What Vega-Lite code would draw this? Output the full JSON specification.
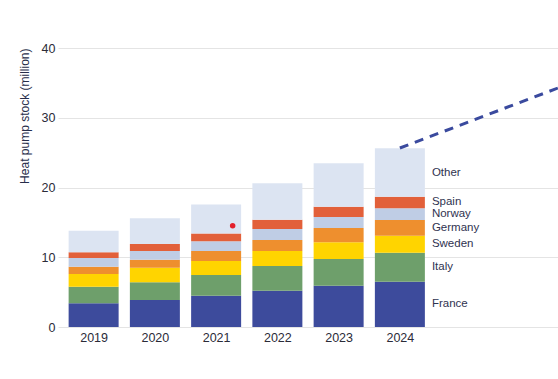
{
  "$schema": "https://vega.github.io/schema/vega-lite/v6.json",
  "autosize": {"type": "none"},
  "width": 500,
  "height": 279,
  "padding": {"left": 58, "top": 48, "right": 0, "bottom": 52},
  "background": "white",
  "config": {
    "view": {"stroke": null},
    "font": "Liberation Sans",
    "axis": {"labelFont": "Liberation Sans", "titleFont": "Liberation Sans"}
  },
  "datasets": {
    "stock": [
      {"year": 2019, "country": "France", "value": 3.4},
      {"year": 2019, "country": "Italy", "value": 2.38},
      {"year": 2019, "country": "Sweden", "value": 1.82},
      {"year": 2019, "country": "Germany", "value": 1.05},
      {"year": 2019, "country": "Norway", "value": 1.24},
      {"year": 2019, "country": "Spain", "value": 0.82},
      {"year": 2019, "country": "Other", "value": 3.1},
      {"year": 2020, "country": "France", "value": 3.87},
      {"year": 2020, "country": "Italy", "value": 2.54},
      {"year": 2020, "country": "Sweden", "value": 2.09},
      {"year": 2020, "country": "Germany", "value": 1.15},
      {"year": 2020, "country": "Norway", "value": 1.25},
      {"year": 2020, "country": "Spain", "value": 1.0},
      {"year": 2020, "country": "Other", "value": 3.68},
      {"year": 2021, "country": "France", "value": 4.49},
      {"year": 2021, "country": "Italy", "value": 2.97},
      {"year": 2021, "country": "Sweden", "value": 2.0},
      {"year": 2021, "country": "Germany", "value": 1.43},
      {"year": 2021, "country": "Norway", "value": 1.39},
      {"year": 2021, "country": "Spain", "value": 1.14},
      {"year": 2021, "country": "Other", "value": 4.16},
      {"year": 2022, "country": "France", "value": 5.2},
      {"year": 2022, "country": "Italy", "value": 3.55},
      {"year": 2022, "country": "Sweden", "value": 2.15},
      {"year": 2022, "country": "Germany", "value": 1.57},
      {"year": 2022, "country": "Norway", "value": 1.58},
      {"year": 2022, "country": "Spain", "value": 1.33},
      {"year": 2022, "country": "Other", "value": 5.22},
      {"year": 2023, "country": "France", "value": 5.92},
      {"year": 2023, "country": "Italy", "value": 3.83},
      {"year": 2023, "country": "Sweden", "value": 2.39},
      {"year": 2023, "country": "Germany", "value": 2.05},
      {"year": 2023, "country": "Norway", "value": 1.58},
      {"year": 2023, "country": "Spain", "value": 1.48},
      {"year": 2023, "country": "Other", "value": 6.22},
      {"year": 2024, "country": "France", "value": 6.5},
      {"year": 2024, "country": "Italy", "value": 4.15},
      {"year": 2024, "country": "Sweden", "value": 2.44},
      {"year": 2024, "country": "Germany", "value": 2.25},
      {"year": 2024, "country": "Norway", "value": 1.68},
      {"year": 2024, "country": "Spain", "value": 1.66},
      {"year": 2024, "country": "Other", "value": 6.94}
    ],
    "projection": [
      {"year": 2024, "value": 25.66},
      {"year": 2027, "value": 35.66}
    ],
    "marker": [
      {"year": 2021.27, "value": 14.5}
    ]
  },
  "layer": [
    {
      "data": {"name": "stock"},
      "transform": [
        {"calculate": "indexof(['France','Italy','Sweden','Germany','Norway','Spain','Other'], datum.country)", "as": "ord"}
      ],
      "mark": {"type": "bar", "size": 50},
      "encoding": {
        "x": {
          "field": "year", "type": "quantitative",
          "scale": {"domain": [2018.5, 2026.5], "nice": false, "zero": false},
          "axis": {
            "values": [2019, 2020, 2021, 2022, 2023, 2024],
            "format": "d", "title": null, "grid": false, "ticks": false, "domain": false,
            "labelFontSize": 12.5, "labelColor": "#2b2b38", "labelPadding": 4, "labelFlush": false
          }
        },
        "y": {
          "field": "value", "type": "quantitative", "stack": "zero",
          "scale": {"domain": [0, 40], "nice": false},
          "axis": {
            "values": [0, 10, 20, 30, 40],
            "title": "Heat pump stock (million)",
            "titleFontSize": 12, "titleFontWeight": "normal", "titleColor": "#262d4a",
            "titleAnchor": "end", "titlePadding": 10,
            "grid": true, "gridColor": "#e4e4e4", "gridWidth": 1,
            "ticks": false, "domain": false,
            "labelFontSize": 12.5, "labelColor": "#2b2b38", "labelPadding": 3
          }
        },
        "color": {
          "field": "country", "type": "nominal",
          "scale": {
            "domain": ["France", "Italy", "Sweden", "Germany", "Norway", "Spain", "Other"],
            "range": ["#3d4b9c", "#6e9f6b", "#ffd400", "#ee8f2e", "#bfcde5", "#e2603a", "#dce4f2"]
          },
          "legend": null
        },
        "order": {"field": "ord", "type": "quantitative"}
      }
    },
    {
      "data": {"name": "stock"},
      "transform": [
        {"calculate": "indexof(['France','Italy','Sweden','Germany','Norway','Spain','Other'], datum.country)", "as": "ord"},
        {"stack": "value", "groupby": ["year"], "sort": [{"field": "ord"}], "as": ["v0", "v1"]},
        {"filter": "datum.year == 2024"},
        {"calculate": "(datum.v0 + datum.v1) / 2", "as": "mid"}
      ],
      "mark": {"type": "text", "align": "left", "baseline": "middle", "dx": 32, "fontSize": 11.5, "color": "#2f3350"},
      "encoding": {
        "x": {"field": "year", "type": "quantitative"},
        "y": {"field": "mid", "type": "quantitative"},
        "text": {"field": "country"}
      }
    },
    {
      "data": {"name": "projection"},
      "mark": {"type": "line", "color": "#3a4a9e", "strokeWidth": 3, "strokeDash": [9, 7], "clip": true},
      "encoding": {
        "x": {"field": "year", "type": "quantitative"},
        "y": {"field": "value", "type": "quantitative"}
      }
    },
    {
      "data": {"name": "marker"},
      "mark": {"type": "point", "filled": true, "color": "#e3202c", "size": 30, "opacity": 1},
      "encoding": {
        "x": {"field": "year", "type": "quantitative"},
        "y": {"field": "value", "type": "quantitative"}
      }
    }
  ]
}
